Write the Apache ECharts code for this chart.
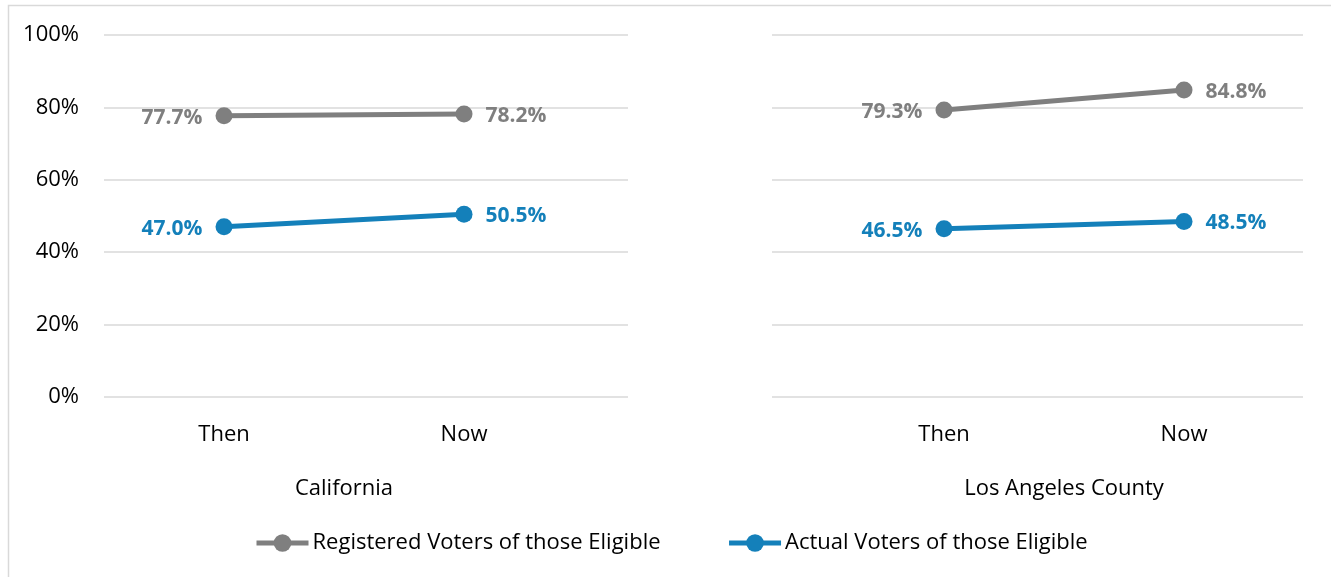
<!DOCTYPE html>
<html><head><meta charset="utf-8">
<script src="https://cdn.jsdelivr.net/npm/echarts@6/dist/echarts.min.js"></script>
<style>html,body{margin:0;padding:0;background:#fff}#c{width:1331px;height:577px}</style>
</head><body><div id="c"></div>
<script>
const categories = ['Then', 'Now'];
const regions = ['California', 'Los Angeles County'];
const seriesNames = ['Registered Voters of those Eligible', 'Actual Voters of those Eligible'];
const caRegistered = [77.7, 78.2];
const caActual = [47.0, 50.5];
const laRegistered = [79.3, 84.8];
const laActual = [46.5, 48.5];
const yTicks = [0, 20, 40, 60, 80, 100];

const FONT = '"Open Sans", sans-serif';
const GREY = '#7f7f7f', BLUE = '#1480ba';

function mkData(vals) {
  return vals.map((v, i) => ({
    value: [i, v],
    label: { position: i === 0 ? 'left' : 'right' }
  }));
}
function mkSeries(name, vals, color, gi) {
  return {
    type: 'line', name, xAxisIndex: gi * 2, yAxisIndex: gi,
    data: mkData(vals), symbol: 'circle', symbolSize: 17,
    lineStyle: { width: 5, color }, itemStyle: { color },
    label: { show: true, distance: 13, offset: [0, 2], color, fontFamily: FONT, fontSize: 21, fontWeight: 'bold',
      formatter: p => p.value[1].toFixed(1) + '%' },
    emphasis: { disabled: true }, animation: false
  };
}
const xRanges = [[-0.5, 1.6833], [-0.7167, 1.4958]];
const xAxes = [];
[0, 1].forEach(gi => {
  xAxes.push({
    type: 'value', gridIndex: gi, min: xRanges[gi][0], max: xRanges[gi][1],
    axisLine: { show: false }, axisTick: { show: false }, splitLine: { show: false },
    axisLabel: { customValues: [0, 1], formatter: v => categories[Math.round(v)], margin: 27,
      color: '#000', fontFamily: FONT, fontSize: 22 }
  });
  xAxes.push({
    type: 'value', gridIndex: gi, min: xRanges[gi][0], max: xRanges[gi][1], position: 'bottom',
    axisLine: { show: false }, axisTick: { show: false }, splitLine: { show: false },
    axisLabel: { customValues: [0.5], formatter: () => regions[gi], margin: 81,
      color: '#000', fontFamily: FONT, fontSize: 22 }
  });
});
const yAxes = [0, 1].map(gi => ({
  type: 'value', gridIndex: gi, min: yTicks[0], max: yTicks[yTicks.length - 1], interval: 20,
  axisLine: { show: false }, axisTick: { show: false },
  splitLine: { lineStyle: { color: '#d9d9d9', width: 1.5 } },
  axisLabel: { show: gi === 0, formatter: '{value}%', margin: 25, color: '#000', fontFamily: FONT, fontSize: 22 }
}));

const chart = echarts.init(document.getElementById('c'), null, { renderer: 'canvas' });
chart.setOption({
  animation: false,
  grid: [
    { left: 104, right: 1331 - 628, top: 35, bottom: 577 - 397 },
    { left: 772, right: 1331 - 1303, top: 35, bottom: 577 - 397 }
  ],
  xAxis: xAxes,
  yAxis: yAxes,
  legend: {
    data: seriesNames, bottom: 18, left: 249, itemWidth: 52, itemHeight: 22, itemGap: 66,
    lineStyle: { width: 5 },
    textStyle: { color: '#000', fontFamily: FONT, fontSize: 22, padding: [0, 0, 0, -1] }
  },
  graphic: [{ type: 'rect', shape: { x: 8.5, y: 5.5, width: 1400, height: 700 },
    style: { fill: 'none', stroke: '#d9d9d9', lineWidth: 1.5 }, silent: true }],
  series: [
    mkSeries(seriesNames[0], caRegistered, GREY, 0),
    mkSeries(seriesNames[1], caActual, BLUE, 0),
    mkSeries(seriesNames[0], laRegistered, GREY, 1),
    mkSeries(seriesNames[1], laActual, BLUE, 1)
  ]
});
</script></body></html>
